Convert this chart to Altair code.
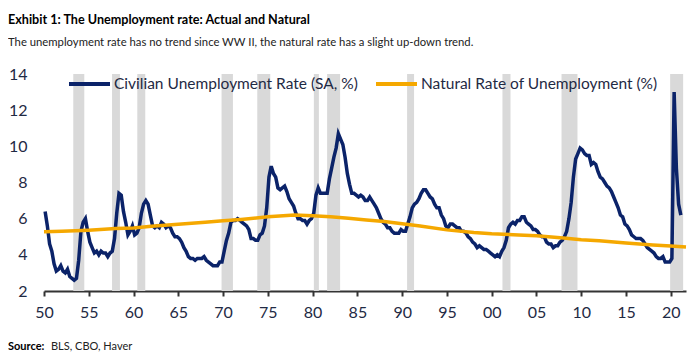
import altair as alt
import pandas as pd

FONT = "Lato"
NAVY = "#0b2369"
ORANGE = "#f5a800"
TEXT = "#1f2a44"

# Quarterly civilian unemployment rate (SA, %), Q1..Q4 for each year
unrate_years = list(range(1950, 2022))
unrate_q = [
    [6.4, 5.6, 4.6, 4.2], [3.5, 3.1, 3.2, 3.4], [3.1, 3.0, 3.2, 2.8], [2.7, 2.6, 2.7, 3.7],
    [5.3, 5.8, 6.0, 5.3], [4.7, 4.4, 4.1, 4.2], [4.0, 4.2, 4.1, 4.1], [3.9, 4.1, 4.2, 4.9],
    [6.3, 7.4, 7.3, 6.4], [5.8, 5.1, 5.3, 5.6], [5.1, 5.2, 5.5, 6.3], [6.8, 7.0, 6.8, 6.2],
    [5.6, 5.5, 5.6, 5.5], [5.8, 5.7, 5.5, 5.6], [5.5, 5.2, 5.0, 5.0], [4.9, 4.7, 4.4, 4.2],
    [3.9, 3.8, 3.8, 3.7], [3.8, 3.8, 3.8, 3.9], [3.7, 3.6, 3.5, 3.4], [3.4, 3.4, 3.6, 3.6],
    [4.2, 4.8, 5.2, 5.8], [5.9, 5.9, 6.0, 5.9], [5.8, 5.7, 5.6, 5.4], [4.9, 4.9, 4.8, 4.8],
    [5.1, 5.2, 5.6, 6.6], [8.3, 8.9, 8.5, 8.3], [7.7, 7.6, 7.7, 7.8], [7.5, 7.1, 6.9, 6.7],
    [6.3, 6.0, 6.0, 5.9], [5.9, 5.7, 5.9, 6.0], [6.3, 7.3, 7.7, 7.4], [7.4, 7.4, 7.4, 8.2],
    [8.8, 9.4, 9.9, 10.7], [10.4, 10.1, 9.4, 8.5], [7.9, 7.4, 7.4, 7.3], [7.2, 7.3, 7.2, 7.0],
    [7.0, 7.2, 7.0, 6.8], [6.6, 6.3, 6.0, 5.8], [5.7, 5.5, 5.5, 5.3], [5.2, 5.2, 5.2, 5.4],
    [5.3, 5.3, 5.7, 6.1], [6.6, 6.8, 6.9, 7.1], [7.4, 7.6, 7.6, 7.4], [7.2, 7.1, 6.8, 6.6],
    [6.6, 6.2, 6.0, 5.6], [5.5, 5.7, 5.7, 5.6], [5.5, 5.5, 5.3, 5.3], [5.2, 5.0, 4.9, 4.7],
    [4.6, 4.4, 4.5, 4.4], [4.3, 4.3, 4.2, 4.1], [4.0, 3.9, 4.0, 3.9], [4.2, 4.4, 4.8, 5.5],
    [5.7, 5.8, 5.7, 5.9], [5.9, 6.1, 6.1, 5.8], [5.7, 5.6, 5.4, 5.4], [5.3, 5.1, 5.0, 5.0],
    [4.7, 4.6, 4.6, 4.4], [4.5, 4.5, 4.7, 4.8], [5.0, 5.3, 6.0, 6.9], [8.3, 9.3, 9.6, 9.9],
    [9.8, 9.6, 9.5, 9.5], [9.0, 9.1, 9.0, 8.6], [8.3, 8.2, 8.0, 7.8], [7.7, 7.5, 7.2, 6.9],
    [6.6, 6.2, 6.1, 5.7], [5.6, 5.4, 5.1, 5.0], [4.9, 4.9, 4.9, 4.8], [4.6, 4.4, 4.3, 4.2],
    [4.1, 3.9, 3.8, 3.8], [3.9, 3.6, 3.6, 3.6], [3.8, 13.0, 8.8, 6.8], [6.2],
]

# Natural rate of unemployment (%), read at these dates
nat_dates = [1950, 1952, 1955, 1958, 1960, 1962, 1965, 1968, 1970, 1972, 1975, 1978,
             1980, 1982, 1984, 1986, 1988, 1990, 1992, 1995, 1998, 2000, 2003, 2005,
             2008, 2010, 2012, 2015, 2018, 2020, 2021.7]
nat_vals = [5.27, 5.30, 5.36, 5.45, 5.49, 5.58, 5.69, 5.80, 5.88, 5.96, 6.10, 6.20,
            6.16, 6.10, 6.02, 5.93, 5.84, 5.72, 5.60, 5.38, 5.24, 5.17, 5.10, 5.05,
            4.93, 4.84, 4.78, 4.66, 4.55, 4.49, 4.43]

# Recession shading
rec_start = [1953.27, 1957.60, 1960.42, 1969.83, 1973.82, 1980.14, 1981.62, 1990.55, 2001.20, 2007.80, 2019.93]
rec_end = [1954.50, 1958.48, 1961.31, 1971.10, 1975.27, 1980.70, 1983.07, 1991.33, 2002.10, 2009.58, 2021.38]

SER_U = "Civilian Unemployment Rate (SA, %)"
SER_N = "Natural Rate of Unemployment (%)"

rows_u = []
for y, qs in zip(unrate_years, unrate_q):
    for i, v in enumerate(qs):
        rows_u.append({"t": y + (i + 0.5) / 4, "v": v, "series": SER_U})
df_u = pd.DataFrame(rows_u)
df_n = pd.DataFrame({"t": nat_dates, "v": nat_vals, "series": SER_N})
df_rec = pd.DataFrame({"start": rec_start, "end": rec_end})

xscale = alt.Scale(domain=[1950, 2021.7], nice=False, zero=False)
yscale = alt.Scale(domain=[2, 14], nice=False, zero=False)

xaxis = alt.Axis(
    values=list(range(1950, 2021, 5)),
    labelExpr="slice('0' + (datum.value % 100), -2)",
    title=None, grid=False, domainColor="#333333", domainWidth=2,
    tickColor="#333333", tickWidth=2, tickSize=5, labelFontSize=16,
    labelColor=TEXT, labelFont=FONT, labelPadding=8, labelFlush=False,
)
yaxis = alt.Axis(
    values=[2, 4, 6, 8, 10, 12, 14], domain=False, ticks=False, grid=False,
    labelPadding=17, labelFontSize=16, labelColor=TEXT, labelFont=FONT, title=None,
)

color = alt.Color(
    "series:N",
    scale=alt.Scale(domain=[SER_U, SER_N], range=[NAVY, ORANGE]),
    legend=alt.Legend(
        orient="none", legendX=23, legendY=-12.5, direction="horizontal", title=None,
        symbolType="stroke", symbolSize=1681, symbolStrokeWidth=4,
        labelFontSize=15.5, labelFont=FONT, labelColor=TEXT, labelOffset=2,
        columnPadding=10, padding=0, labelLimit=400,
    ),
)

bars = alt.Chart(df_rec).mark_rect(color="#d9d9d9").encode(
    x=alt.X("start:Q", scale=xscale, axis=xaxis),
    x2="end:Q",
    y=alt.datum(14, scale=yscale, axis=yaxis),
    y2=alt.datum(2),
)

line_u = alt.Chart(df_u).mark_line(strokeWidth=3.5).encode(
    x=alt.X("t:Q", scale=xscale, axis=xaxis),
    y=alt.Y("v:Q", scale=yscale, axis=yaxis),
    color=color,
)
line_n = alt.Chart(df_n).mark_line(strokeWidth=3.5).encode(
    x=alt.X("t:Q", scale=xscale, axis=xaxis),
    y=alt.Y("v:Q", scale=yscale, axis=yaxis),
    color=color,
)

src_df = pd.DataFrame({"a": ["Source:"], "b": ["BLS, CBO, Haver"]})
src_a = alt.Chart(src_df).mark_text(
    align="left", baseline="alphabetic", font=FONT, fontSize=11, fontWeight="bold", color="#000000"
).encode(text="a:N", x=alt.value(-36), y=alt.value(276))
src_b = alt.Chart(src_df).mark_text(
    align="left", baseline="alphabetic", font=FONT, fontSize=11, color="#222222"
).encode(text="b:N", x=alt.value(7), y=alt.value(276))

chart = alt.layer(bars, line_u, line_n, src_a, src_b).properties(
    width=642, height=217,
    autosize=alt.AutoSizeParams(type="none"),
    padding={"left": 36, "top": 66, "right": 6, "bottom": 61},
    title=alt.TitleParams(
        text="Exhibit 1: The Unemployment rate: Actual and Natural",
        subtitle="The unemployment rate has no trend since WW II, the natural rate has a slight up-down trend.",
        anchor="start", frame="group", dx=-36, offset=13.5,
        font=FONT, fontSize=12.6, fontWeight="bold", color="#000000",
        subtitleFont=FONT, subtitleFontSize=11.3, subtitleColor="#222222", subtitlePadding=10.5,
    ),
).configure_view(stroke=None)

chart.save("out.html", embed_options={"renderer": "svg", "actions": False})
